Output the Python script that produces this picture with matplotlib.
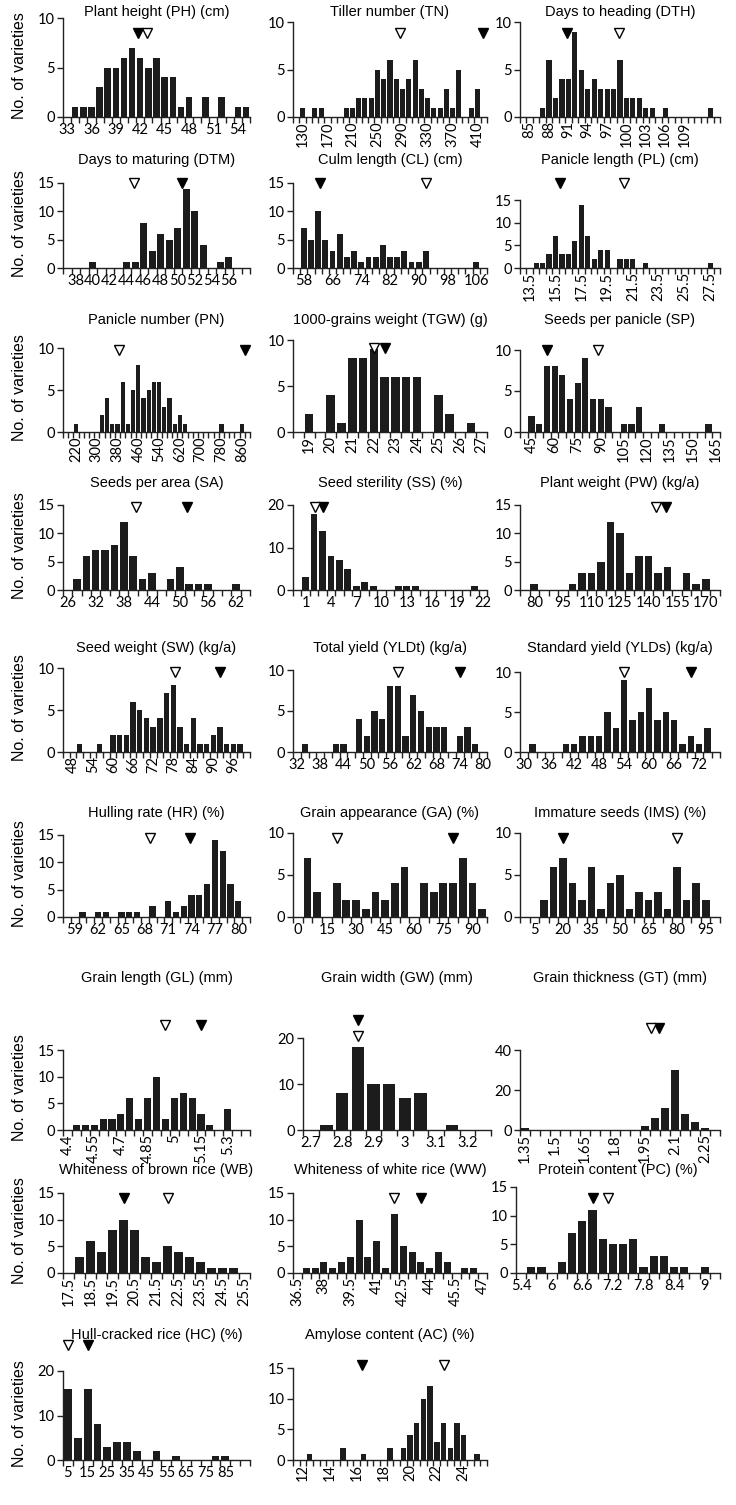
import numpy as np
import matplotlib
matplotlib.use("Agg")
import matplotlib.pyplot as plt
from matplotlib.transforms import blended_transform_factory

FIG_W, FIG_H = 736, 1505

# ---- data (counts per bin) ----
ph_counts = [0, 1, 1, 1, 3, 5, 5, 6, 7, 6, 5, 6, 4, 4, 1, 2, 0, 2, 0, 2, 0, 1, 1]
tn_counts = [0, 1, 0, 1, 1, 0, 0, 0, 1, 1, 2, 2, 2, 5, 4, 6, 4, 3, 4, 6, 3, 2, 1, 1, 3, 1, 5, 0, 1, 3, 0]
dth_counts = [0, 0, 0, 1, 6, 2, 4, 4, 9, 5, 3, 4, 3, 3, 3, 6, 2, 2, 2, 1, 1, 0, 1, 0, 0, 0, 0, 0, 0, 1, 0]
dtm_counts = [0, 0, 0, 1, 0, 0, 0, 1, 1, 8, 3, 6, 5, 7, 14, 10, 4, 0, 1, 2, 0, 0]
cl_counts = [0, 7, 5, 10, 5, 3, 6, 2, 3, 1, 2, 2, 4, 2, 2, 3, 1, 1, 3, 0, 0, 0, 0, 0, 0, 1, 0]
pl_counts = [0, 0, 1, 1, 3, 7, 3, 3, 6, 14, 7, 2, 4, 4, 0, 2, 2, 2, 0, 1,
             0, 0, 0, 0, 0, 0, 0, 0, 0, 1, 0]
pn_counts = [0, 0, 1, 0, 0, 0, 0, 2, 4, 1, 1, 6, 1, 5, 8, 4, 5, 6, 6, 3, 4, 1, 2, 1,
             0, 0, 0, 0, 0, 0, 1, 0, 0, 0, 1, 0]
tgw_counts = [0, 2, 0, 4, 1, 8, 8, 9, 6, 6, 6, 6, 0, 4, 2, 0, 1, 0]
sp_counts = [0, 2, 1, 8, 8, 7, 4, 6, 9, 4, 4, 3, 0, 1, 1, 3, 0, 0, 1, 0, 0, 0, 0, 0, 1, 0]
sa_counts = [0, 2, 6, 7, 7, 8, 12, 6, 2, 3, 0, 2, 4, 1, 1, 1, 0, 0, 1, 0]
ss_counts = [0, 3, 18, 14, 8, 7, 5, 1, 2, 1, 0, 0, 1, 1, 1, 0, 0, 0, 0, 0, 0, 1, 0]
pw_counts = [0, 1, 0, 0, 0, 1, 3, 3, 5, 12, 10, 3, 6, 6, 3, 4, 0, 3, 1, 2, 0]
sw_counts = [0, 0, 1, 0, 0, 1, 0, 2, 2, 2, 6, 5, 4, 3, 4, 7, 8, 3, 1, 4, 1, 1, 2, 3, 1, 1, 1, 0]
yldt_counts = [0, 1, 0, 0, 0, 1, 1, 0, 4, 2, 5, 4, 8, 8, 2, 7, 5, 3, 3, 3, 0, 2, 3, 1, 0]
ylds_counts = [0, 1, 0, 0, 0, 1, 1, 2, 2, 2, 5, 3, 9, 4, 5, 8, 4, 5, 4, 1, 2, 1, 3, 0]
hr_counts = [0, 0, 1, 0, 1, 1, 0, 1, 1, 1, 0, 2, 0, 3, 1, 2, 4, 4, 6, 14, 12, 6, 3, 0]
ga_counts = [0, 7, 3, 0, 4, 2, 2, 1, 3, 2, 4, 6, 0, 4, 3, 4, 4, 7, 4, 1]
ims_counts = [0, 0, 2, 6, 7, 4, 2, 6, 1, 4, 5, 1, 3, 2, 3, 1, 6, 2, 4, 2, 0]
gl_counts = [0, 1, 1, 1, 2, 2, 3, 6, 2, 6, 10, 2, 6, 7, 6, 3, 1, 0, 4, 0, 0]
gw_counts = [0, 1, 8, 18, 10, 10, 7, 8, 0, 1, 0, 0]
gt_counts = [1, 0, 0, 0, 0, 0, 0, 0, 0, 0, 0, 0, 2, 6, 11, 30, 8, 4, 1, 0]
wb_counts = [0, 3, 6, 4, 8, 10, 8, 3, 2, 5, 4, 3, 2, 1, 1, 1, 0]
ww_counts = [0, 1, 1, 2, 1, 2, 3, 10, 3, 6, 1, 11, 5, 4, 2, 1, 4, 2, 0, 1, 1, 0]
pc_counts = [0, 1, 1, 0, 2, 7, 9, 11, 6, 5, 5, 6, 1, 3, 3, 1, 1, 0, 1, 0]
hc_counts = [16, 5, 16, 8, 3, 4, 4, 2, 0, 2, 0, 1, 0, 0, 0, 1, 1, 0, 0]
ac_counts = [0, 0, 1, 0, 0, 0, 0, 2, 0, 0, 1, 0, 0, 0, 2, 0, 2, 4, 6, 10, 12, 3, 6, 2, 6, 4, 0, 1, 0]

titles = ["Plant height (PH) (cm)", "Tiller number (TN)", "Days to heading (DTH)",
          "Days to maturing (DTM)", "Culm length (CL) (cm)", "Panicle length (PL) (cm)",
          "Panicle number (PN)", "1000-grains weight (TGW) (g)", "Seeds per panicle (SP)",
          "Seeds per area (SA)", "Seed sterility (SS) (%)", "Plant weight (PW) (kg/a)",
          "Seed weight (SW) (kg/a)", "Total yield (YLDt) (kg/a)", "Standard yield (YLDs) (kg/a)",
          "Hulling rate (HR) (%)", "Grain appearance (GA) (%)", "Immature seeds (IMS) (%)",
          "Grain length (GL) (mm)", "Grain width (GW) (mm)", "Grain thickness (GT) (mm)",
          "Whiteness of brown rice (WB)", "Whiteness of white rice (WW)", "Protein content (PC) (%)",
          "Hull-cracked rice (HC) (%)", "Amylose content (AC) (%)"]
counts_list = [ph_counts, tn_counts, dth_counts, dtm_counts, cl_counts, pl_counts,
               pn_counts, tgw_counts, sp_counts, sa_counts, ss_counts, pw_counts,
               sw_counts, yldt_counts, ylds_counts, hr_counts, ga_counts, ims_counts,
               gl_counts, gw_counts, gt_counts, wb_counts, ww_counts, pc_counts,
               hc_counts, ac_counts]
bin_start = [33, 120, 84, 37, 56, 13.0, 180, 18.5, 40, 26, 0, 75, 46, 32, 30, 58, 0, 0,
             4.4, 2.7, 1.35, 17.5, 36.5, 5.4, 5, 11.5]
bin_step = [1, 10, 1, 1, 2, 0.5, 20, 0.5, 5, 2, 1, 5, 2, 2, 2, 1, 5, 5,
            0.05, 0.05, 0.05, 0.5, 0.5, 0.2, 5, 0.5]
label_first = [33, 130, 85, 38, 58, 13.5, 220, 19, 45, 26, 1, 80, 48, 32, 30, 59, 0, 5,
               4.4, 2.7, 1.35, 17.5, 36.5, 5.4, 5, 12]
label_last = [54, 410, 109, 56, 106, 27.5, 860, 27, 165, 62, 22, 170, 96, 80, 72, 80, 90, 95,
              5.3, 3.2, 2.25, 25.5, 47, 9, 85, 24]
label_step = [3, 40, 3, 2, 8, 2, 80, 1, 15, 6, 3, 15, 6, 6, 6, 3, 15, 15,
              0.15, 0.1, 0.15, 1, 1.5, 0.6, 10, 2]
label_rot = [0, 90, 90, 0, 0, 90, 90, 90, 90, 0, 0, 0, 90, 0, 0, 0, 0, 0,
             90, 0, 90, 90, 90, 0, 0, 90]
y_max = [10, 10, 10, 15, 15, 15, 10, 10, 10, 15, 20, 15, 10, 10, 10, 15, 10, 10,
         15, 20, 40, 15, 15, 15, 20, 15]
y_step = [5, 5, 5, 5, 5, 5, 5, 5, 5, 5, 10, 5, 5, 5, 5, 5, 5, 5, 5, 10, 20, 5, 5, 5, 10, 5]
mean_open = [42.8, 286, 98.8, 44.8, 92, 20.8, 386, 22.0, 88, 40.6, 2.1, 144, 78.5, 58, 54,
             68.7, 20, 80, 4.95, 2.85, 1.98, 22.0, 42.0, 7.1, 5, 22.5]
mean_filled = [41.7, 418, 90.8, 50.5, 62.4, 15.85, 872, 22.5, 55, 51.5, 3.0, 149, 92, 74, 70,
               73.8, 80, 20, 5.15, 2.85, 2.02, 20.0, 43.5, 6.8, 15, 16.4]

# ---- layout in pixels ----
col_x = [(63, 250), (293, 487), (520, 720)]
panel_x = {19: (303, 491), 23: (516, 720)}
row_zero = [117, 268, 432, 590, 752, 917, 1130, 1273, 1460]
row_title = [12, 160, 320, 483, 648, 813, 978, 1170, 1335]
panel_top = [18, 22, 22, 183, 183, 200, 348, 340, 350, 505, 505, 505, 668, 670, 672,
             835, 833, 833, 1050, 1038, 1050, 1193, 1193, 1187, 1371, 1368]
mark_y = [33, 33, 33, 183, 183, 183, 350, 348, 350, 507, 507, 507, 672, 672, 672,
          838, 838, 838, 1025, 1036, 1028, 1198, 1198, 1198, 1345, 1365]
filled_mark_y = {19: 1020}

TICK_FONT = ["Lato", "DejaVu Sans"]
TITLE_FONT = ["Liberation Sans Narrow", "Liberation Sans", "DejaVu Sans"]
BAR_COLOR = "#1c1c1c"

fig = plt.figure(figsize=(FIG_W / 100, FIG_H / 100), dpi=100)


def fmt(v):
    return f"{round(v, 3):g}"


def draw_panel(k):
    row, col = divmod(k, 3)
    x0, x1 = panel_x.get(k, col_x[col])
    top, zero = panel_top[k], row_zero[row]
    ax = fig.add_axes([x0 / FIG_W, 1 - zero / FIG_H, (x1 - x0) / FIG_W, (zero - top) / FIG_H])

    counts = counts_list[k]
    n = len(counts)
    idx = np.arange(n)
    vals = [bin_start[k] + bin_step[k] * i for i in idx]
    ax.bar(idx, counts, width=0.8, color=BAR_COLOR, zorder=2)
    ax.set_xlim(-0.5, n - 0.5)
    ax.set_ylim(0, y_max[k])

    for s in ("top", "right"):
        ax.spines[s].set_visible(False)
    for s in ("left", "bottom"):
        ax.spines[s].set_linewidth(1.0)
        ax.spines[s].set_color("#222222")

    # tick marks at bin boundaries, labels at bin centres
    ax.set_xticks(np.arange(n + 1) - 0.5)
    ax.set_xticklabels([])
    ax.tick_params(axis="x", which="major", direction="out", length=4, width=1, color="#222222")
    lab_pos, lab_txt = [], []
    for i, v in enumerate(vals):
        r = (v - label_first[k]) / label_step[k]
        if r > -1e-6 and abs(r - round(r)) < 1e-6 and v <= label_last[k] + 1e-6:
            lab_pos.append(i)
            lab_txt.append(fmt(v))
    ax.set_xticks(lab_pos, minor=True)
    ax.set_xticklabels(lab_txt, minor=True, rotation=label_rot[k], family=TICK_FONT, fontsize=10.5)
    ax.tick_params(axis="x", which="minor", length=0, pad=4 if label_rot[k] == 0 else 3)

    yt = np.arange(0, y_max[k] + 1, y_step[k])
    ax.set_yticks(yt)
    ax.set_yticklabels([str(int(t)) for t in yt], family=TICK_FONT, fontsize=10.5)
    ax.tick_params(axis="y", direction="out", length=4, width=1, color="#222222", pad=2)

    # mean markers
    tr = blended_transform_factory(ax.transData, ax.transAxes)
    ym_open = (zero - mark_y[k]) / (zero - top)
    ym_fill = (zero - filled_mark_y.get(k, mark_y[k])) / (zero - top)
    xo = (mean_open[k] - bin_start[k]) / bin_step[k]
    xf = (mean_filled[k] - bin_start[k]) / bin_step[k]
    ax.plot([xf], [ym_fill], marker="v", ms=7.5, mfc="black", mec="black", mew=1,
            transform=tr, clip_on=False, zorder=5)
    ax.plot([xo], [ym_open], marker="v", ms=7.5, mfc="white", mec="black", mew=1,
            transform=tr, clip_on=False, zorder=5)

    fig.text((x0 + x1) / 2 / FIG_W, 1 - row_title[row] / FIG_H, titles[k],
             ha="center", va="center", family=TITLE_FONT, fontsize=10.5)

    if col == 0:
        fig.text(20 / FIG_W, 1 - ((top + zero) / 2 - 2) / FIG_H, "No. of varieties",
                 rotation=90, ha="center", va="center",
                 family=["Liberation Sans", "DejaVu Sans"], fontsize=11.5)


for k in range(len(titles)):
    draw_panel(k)

fig.savefig("out.png", dpi=100, facecolor="white")
